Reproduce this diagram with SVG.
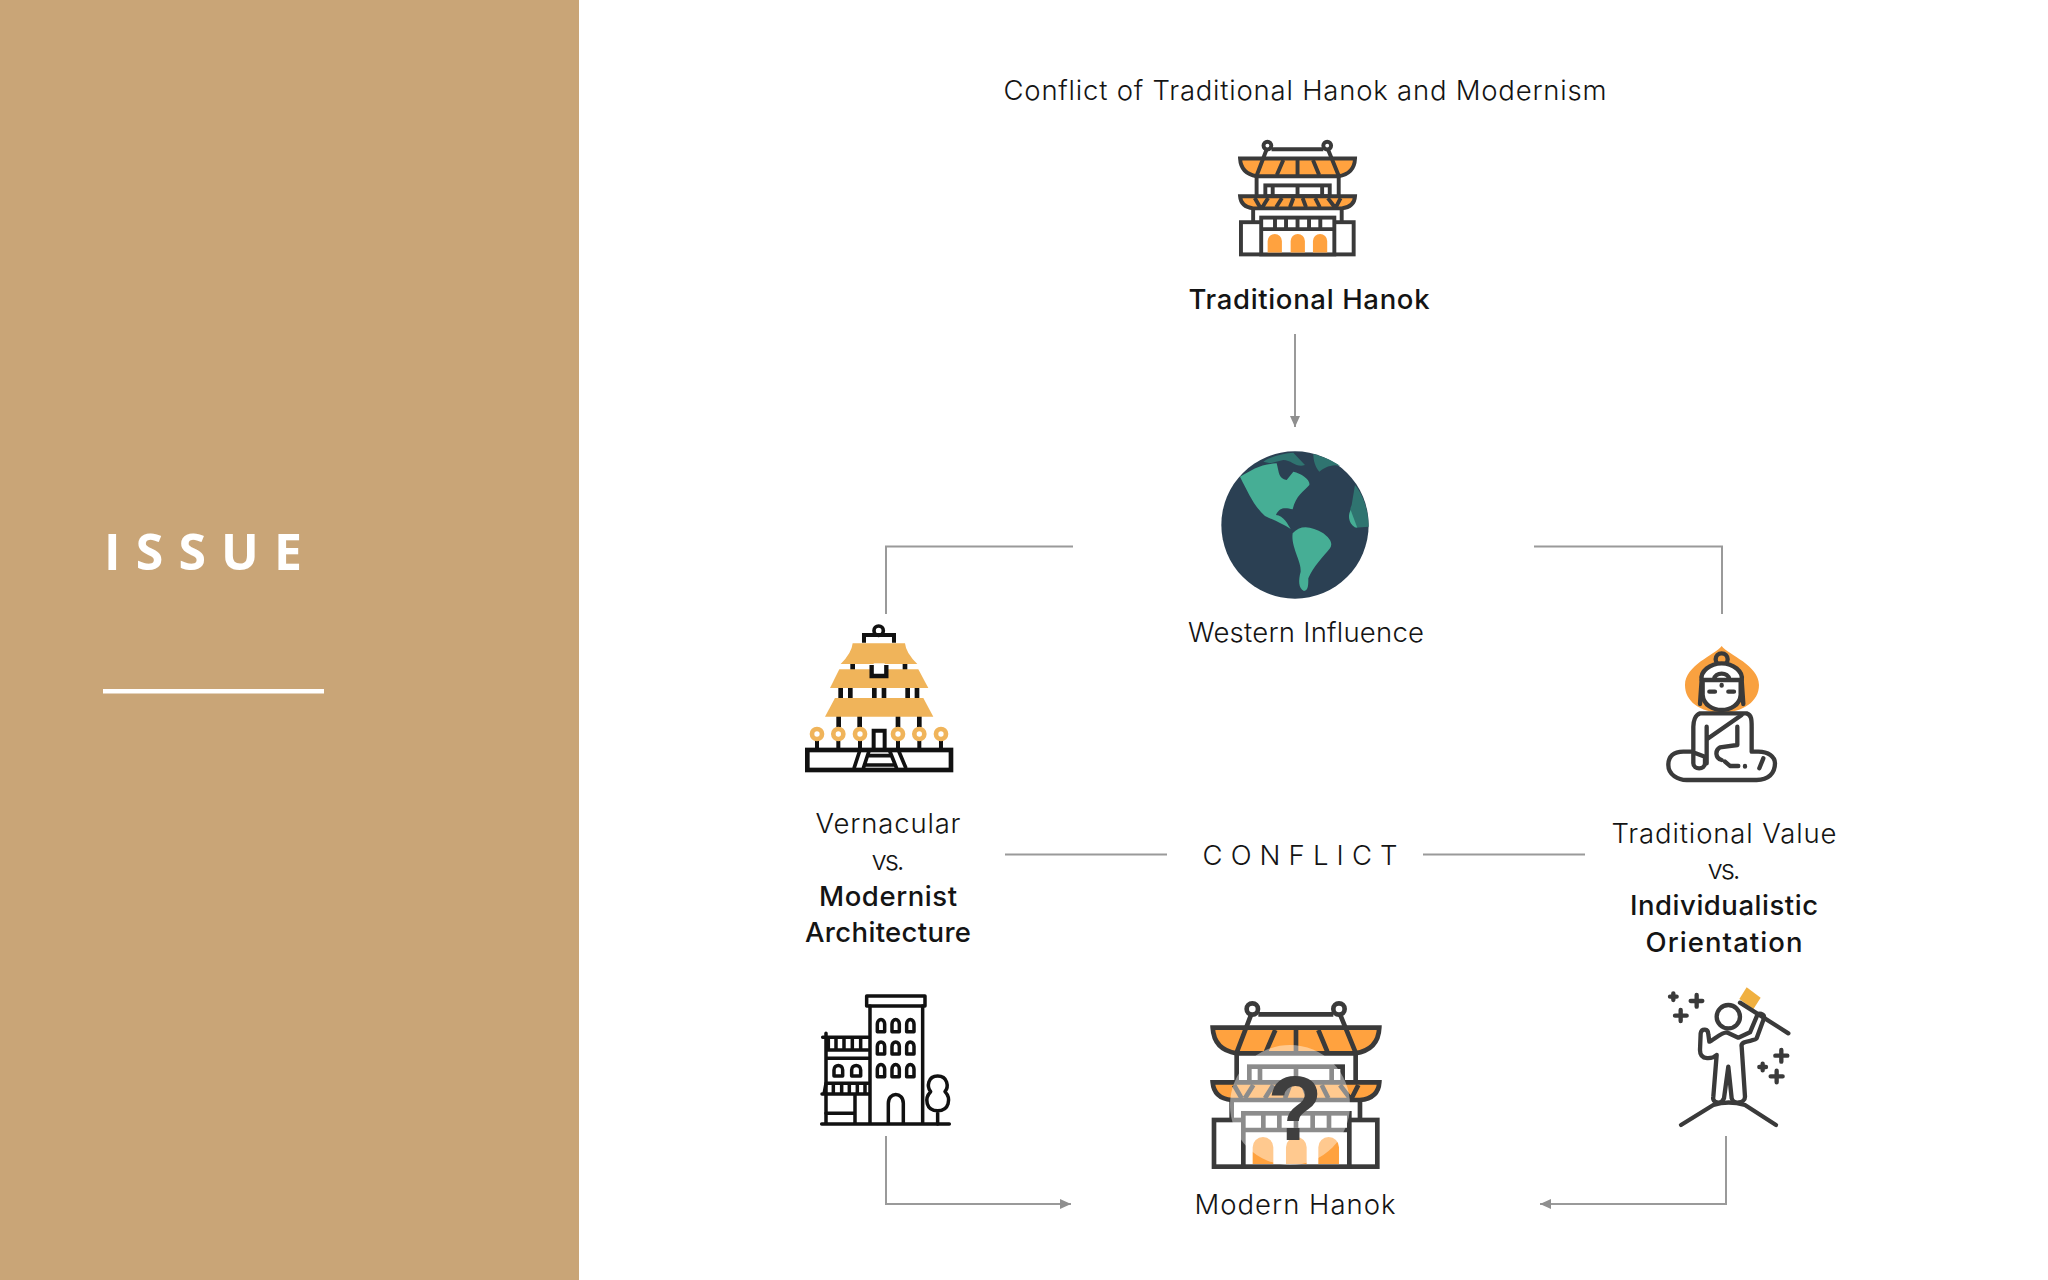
<svg xmlns="http://www.w3.org/2000/svg" width="2048" height="1280" viewBox="0 0 2048 1280">
<style>
.t{font-family:"Inter","Open Sans","Liberation Sans",sans-serif;font-size:27.5px;fill:#141414;font-weight:300;text-anchor:middle}
.b{font-weight:500}
.c{fill:none;stroke:#9a9a9a;stroke-width:2}
.d{stroke:#3a3a3a;fill:none;stroke-linejoin:round;stroke-linecap:round}
.h{stroke:#3a3a3a;fill:none;stroke-linejoin:miter;stroke-width:var(--sw)}
.k{stroke:#111;fill:none}
</style>
<defs>
<marker id="arrow" markerUnits="userSpaceOnUse" markerWidth="12" markerHeight="12" refX="11" refY="5" orient="auto"><path d="M0,0L11,5L0,10Z" fill="#8f8f8f"/></marker>
<g id="hanok">
<g class="h">
<circle cx="187" cy="57" r="17"/><circle cx="447" cy="57" r="17"/>
<path d="M205,73H430M140,190V280M497,190V280M125,330V390M510,330V390"/>
<path d="M68,113H568Q565,180 495,190H140Q72,180 68,113Z" fill="#FFA23F"/>
<path d="M183,75L140,188M451,75L497,188M256,120L228,185M318,113V185M385,120L412,185"/>
<rect x="178" y="230" width="280" height="47" fill="#fff"/>
<path d="M210,230V277M318,230V277M425,230V277"/>
<path d="M68,277H568Q565,325 510,330H125Q72,325 68,277Z" fill="#FFA23F"/>
<path d="M132,285L155,325M190,285L165,325M250,285L225,325M300,285L285,325M340,285L355,325M395,285L415,325M450,285L480,325M505,285L485,325"/>
<rect x="72" y="390" width="490" height="140" fill="#fff"/>
<rect x="160" y="370" width="318" height="160" fill="#fff"/>
<path d="M160,420H478M220,370V420M268,370V420M318,370V420M368,370V420M417,370V420"/>
</g>
<path d="M188,522V472a31,31 0 0 1 62,0V522ZM288,522V472a31,31 0 0 1 62,0V522ZM385,522V472a31,31 0 0 1 62,0V522Z" fill="#FFA23F"/>
</g>
</defs>

<g id="panel">
<rect x="0" y="0" width="579" height="1280" fill="#C9A577"/>
<text x="104" y="570" font-family="'Open Sans','Liberation Sans',sans-serif" font-size="50" font-weight="700" fill="#fff" textLength="198">ISSUE</text>
<rect x="103" y="689" width="221" height="4.5" fill="#fff"/>
</g>

<text class="t" x="1305" y="100" textLength="603">Conflict of Traditional Hanok and Modernism</text>

<g id="connectors">
<path class="c" d="M1295,334V427" marker-end="url(#arrow)"/>
<path class="c" d="M1073,546.500H886V614"/>
<path class="c" d="M1534,546.500H1722V614"/>
<path class="c" d="M1005,854.500H1167"/>
<path class="c" d="M1423,854.500H1585"/>
<path class="c" d="M886,1136V1204H1071" marker-end="url(#arrow)"/>
<path class="c" d="M1726,1136V1204H1540" marker-end="url(#arrow)"/>
</g>

<g id="traditional-hanok">
<use href="#hanok" style="--sw:17px" transform="translate(1224.4,132.5) scale(0.23)"/>
<text class="t b" x="1309" y="309" textLength="241">Traditional Hanok</text>
</g>

<g id="western-influence">
<g transform="translate(1180,430) scale(0.3333)">
<circle cx="345" cy="285" r="221" fill="#2B4053"/>
<path d="M180,140C215,120 240,102 290,100C298,130 295,145 320,150L340,125C365,130 392,150 388,165C372,185 348,195 338,238C320,235 300,228 288,255C310,255 325,285 332,297C310,282 285,272 255,258C225,232 205,190 180,140Z" fill="#46AE95"/>
<path d="M338,310C360,283 395,288 430,310C450,325 460,340 450,355C430,380 400,410 385,445C385,465 385,482 372,483C355,475 355,450 362,425C365,395 332,350 338,310Z" fill="#46AE95"/>
<path d="M250,95C270,80 310,70 340,68L375,105C350,115 335,90 310,90L270,100ZM400,72C430,80 465,95 480,108C455,100 430,115 418,125C405,110 400,90 400,72ZM525,165C550,195 565,240 566,290L525,293C510,280 505,245 515,225Z" fill="#2F7470"/>
<path d="M512,240L532,293C510,290 500,260 512,240Z" fill="#46AE95"/>
</g>
<text class="t" x="1306" y="642" textLength="236">Western Influence</text>
</g>

<g id="vernacular">
<g transform="translate(780,610) scale(0.3333)">
<g class="k">
<circle cx="296" cy="62" r="14" stroke-width="11" fill="#fff"/>
<path d="M252,98V75H342V98" stroke-width="12"/>
<path d="M218,160V180M375,160V180M182,232V266M211,232V266M283,232V266M312,232V266M383,232V266M411,232V266M176,318V352M239,318V352M354,318V352M418,318V352" stroke-width="14"/>
<path d="M111,390V418M175,390V418M240,390V418M354,390V418M418,390V418M483,390V418" stroke-width="12"/>
</g>
<g fill="#F0B45A">
<path d="M218,100H375Q378,130 412,162H182Q215,130 218,100Z"/>
<path d="M178,178H415L445,234H150Z"/>
<path d="M165,264H430L460,320H135Z"/>
</g>
<path d="M275,165V198H319V165" fill="#fff" stroke="#111" stroke-width="13"/>
<rect x="281" y="160" width="33" height="4" fill="#fff"/>
<g fill="#fff" stroke="#F0B45A" stroke-width="14">
<circle cx="111" cy="372" r="15"/><circle cx="175" cy="372" r="15"/><circle cx="240" cy="372" r="15"/><circle cx="354" cy="372" r="15"/><circle cx="418" cy="372" r="15"/><circle cx="483" cy="372" r="15"/>
</g>
<g class="k">
<path d="M281,418V362H314V418" stroke-width="12"/>
<rect x="82" y="420" width="431" height="60" fill="#fff" stroke-width="14"/>
<path d="M240,420L222,475M268,420L250,475M328,420L350,475M355,420L378,475M262,437H335M250,465H350" stroke-width="11"/>
</g>
</g>
<text class="t" x="888" y="833" textLength="145">Vernacular</text>
<text class="t" x="888" y="870" textLength="33">vs.</text>
<text class="t b" x="888" y="906" textLength="138">Modernist</text>
<text class="t b" x="888" y="942" textLength="166">Architecture</text>
</g>

<g id="conflict">
<text class="t" x="1300" y="865" textLength="195">CONFLICT</text>
</g>

<g id="traditional-value">
<g transform="translate(1640,630) scale(0.3333)">
<path d="M245,48C225,75 135,105 135,165C135,215 180,245 245,250C310,245 357,215 357,165C357,105 265,75 245,48Z" fill="#F9A140"/>
<g class="d" stroke-width="13">
<circle cx="245" cy="88" r="18" fill="#F9A140"/>
<path d="M185,150C180,125 210,100 245,100C280,100 310,125 305,150" fill="#fff"/>
<path d="M222,148C225,125 265,125 268,148"/>
<path d="M188,150H302V195C300,225 270,240 245,240C220,240 190,225 188,195Z" fill="#fff"/>
<path d="M185,150L180,222M305,150L310,222"/>
<path d="M208,185H225M265,185H282M245,165V167"/>
<path d="M155,365H130C100,365 85,380 85,405C85,435 115,450 140,450H350C385,450 405,430 405,400C405,380 385,365 355,365H335V290C335,270 335,255 320,250H180C165,255 160,275 160,290V400C160,420 195,420 195,400V380Z" fill="#fff"/>
<path d="M205,325L305,255M200,290V400M292,290V345L240,352C225,360 225,385 245,390M255,395L270,408H295M315,408V410M370,385L358,415"/>
</g>
</g>
<text class="t" x="1724" y="843" textLength="225">Traditional Value</text>
<text class="t" x="1724" y="879" textLength="33">vs.</text>
<text class="t b" x="1724" y="915" textLength="188">Individualistic</text>
<text class="t b" x="1724" y="952" textLength="157">Orientation</text>
</g>

<g id="modernist-building">
<g transform="translate(800,980) scale(0.3333)" class="k" stroke-width="10.500" stroke-linejoin="round" stroke-linecap="round">
<rect x="200" y="48" width="175" height="30"/>
<path d="M210,78V430M368,78V430M65,432H448"/>
<path d="M232,155V132a10,12 0 0 1 22,0V155ZM276,155V132a10,12 0 0 1 22,0V155ZM320,155V132a10,12 0 0 1 22,0V155ZM232,222V199a10,12 0 0 1 22,0V222ZM276,222V199a10,12 0 0 1 22,0V222ZM320,222V199a10,12 0 0 1 22,0V222ZM232,290V267a10,12 0 0 1 22,0V290ZM276,290V267a10,12 0 0 1 22,0V290ZM320,290V267a10,12 0 0 1 22,0V290Z"/>
<path d="M265,430V370C265,335 310,335 310,370V430"/>
<path d="M413,288C383,288 380,320 392,335C372,355 378,392 413,392C448,392 454,355 435,335C447,320 443,288 413,288ZM413,392V432"/>
<path d="M78,160V430M68,172H205M78,210H205M85,172V210M108,172V210M132,172V210M157,172V210M182,172V210M78,235H205"/>
<path d="M102,288V270C102,252 128,252 128,270V288ZM155,288V270C155,252 182,252 182,270V288Z"/>
<path d="M78,310H205M66,342H205M72,342L78,310M100,310V340M125,310V340M148,310V340M172,310V340M195,310V340M165,345V430M78,400H165"/>
</g>
</g>

<g id="modern-hanok">
<g transform="translate(1190,990) scale(0.3333)">
<use href="#hanok" style="--sw:14px"/>
<circle cx="300" cy="345" r="180" fill="#fff" opacity="0.42"/>
</g>
<text x="1295" y="1140" font-family="'Liberation Sans',sans-serif" font-size="90" font-weight="700" fill="#3f3f3f" text-anchor="middle">?</text>
<text class="t" x="1295" y="1214" textLength="201">Modern Hanok</text>
</g>

<g id="individual-figure">
<g transform="translate(1650,975) scale(0.3333)">
<path d="M290,37L332,68L310,103L268,72Z" fill="#F0B040"/>
<g class="d" stroke-width="13">
<path d="M270,83L415,175"/>
<circle cx="235" cy="125" r="35"/>
<path d="M152,175C155,160 175,160 175,178L178,200C190,195 215,172 230,172L265,188L300,172L320,125C325,110 345,115 342,130L320,190C315,200 270,195 275,215L285,365C285,385 250,390 245,370L235,275L222,370C215,390 185,385 190,365L200,240C190,250 150,260 150,225Z"/>
<path d="M93,450L190,390Q235,375 285,390L378,450"/>
<path d="M75,122H110M92,105V138M122,78H157M140,60V95M60,65H80M70,55V75M376,242H412M394,225V260M362,304H398M380,287V322M328,276H348M338,266V286"/>
</g>
</g>
</g>
</svg>
